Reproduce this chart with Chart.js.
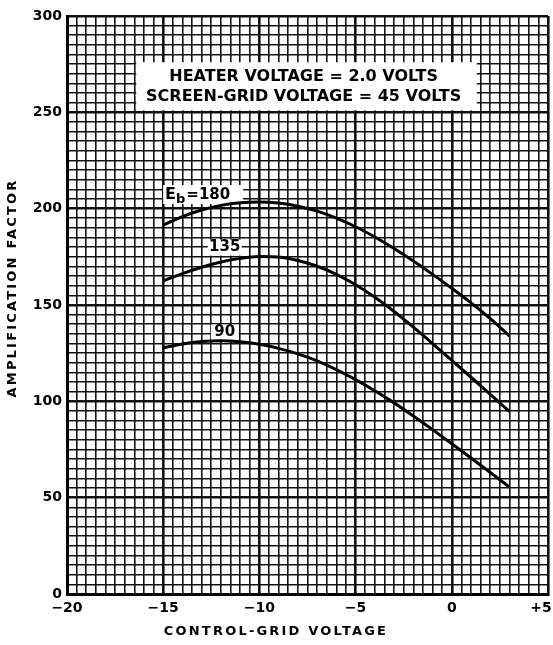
<!DOCTYPE html>
<html>
<head>
<meta charset="utf-8">
<script src="https://cdn.jsdelivr.net/npm/chart.js@4/dist/chart.umd.min.js"></script>
<style>
  html, body { margin: 0; padding: 0; background: #fff; }
  #wrap { width: 553px; height: 645px; }
</style>
</head>
<body>
<div id="wrap"><canvas id="ampChart"></canvas></div>
<script>
// control-grid voltage (x) and amplification factor for each plate voltage
var gridVoltage = [-15, -14, -13, -12, -11, -10, -9, -8, -7, -6, -5, -4, -3, -2, -1, 0, 1, 2, 3];
var amp180 = [191.5, 195.9, 199.3, 201.7, 203.1, 203.5, 202.9, 201.3, 198.7, 195.1, 190.6, 185.3, 179.3, 172.8, 165.9, 158.7, 151.1, 142.9, 133.9];
var amp135 = [162.5, 166.3, 169.6, 172.3, 174.2, 175.2, 174.9, 173.1, 170.1, 165.9, 160.5, 154.0, 146.6, 138.5, 130.0, 121.3, 112.5, 103.6, 94.6];
var amp90  = [127.8, 129.8, 131.0, 131.4, 130.9, 129.6, 127.5, 124.6, 121.0, 116.5, 111.3, 105.5, 99.2, 92.4, 85.3, 78.0, 70.6, 63.1, 55.5];

var xTickLabels = { "-20": "\u221220", "-15": "\u221215", "-10": "\u221210", "-5": "\u22125", "0": "0", "5": "+5" };
var yTickLabels = [0, 50, 100, 150, 200, 250, 300];

var noteLines = ["HEATER VOLTAGE = 2.0 VOLTS", "SCREEN-GRID VOLTAGE = 45 VOLTS"];
var xTitle = "CONTROL-GRID VOLTAGE";
var yTitle = "AMPLIFICATION FACTOR";

var FONT = "'DejaVu Sans', sans-serif";

function isMajor(v, step) {
    var r = v / step;
    return Math.abs(r - Math.round(r)) < 1e-6;
}

function toPoints(ys) {
    return gridVoltage.map(function(x, i) { return { x: x, y: ys[i] }; });
}

function curve(label, ys) {
    return {
        label: label,
        data: toPoints(ys),
        borderColor: "#000",
        borderWidth: 3,
        pointRadius: 0,
        fill: false,
        cubicInterpolationMode: "monotone",
        borderCapStyle: "butt"
    };
}

// white note box, curve labels and axis titles
var paperPlugin = {
    id: "paper",
    beforeDatasetsDraw: function(chart) {
        var ctx = chart.ctx, xs = chart.scales.x, ys = chart.scales.y;
        ctx.save();
        ctx.fillStyle = "#fff";
        // note box
        var bx1 = xs.getPixelForValue(-16.4), bx2 = xs.getPixelForValue(1.3);
        var by1 = ys.getPixelForValue(276), by2 = ys.getPixelForValue(251);
        ctx.fillRect(bx1, by1, bx2 - bx1, by2 - by1);
        // label backgrounds
        var lx = xs.getPixelForValue(-14.9), ly = ys.getPixelForValue(205);
        ctx.fillRect(lx - 2, ly - 14, 80, 19);
        var l135x = xs.getPixelForValue(-11.8), l135y = ys.getPixelForValue(179.8);
        ctx.fillRect(l135x - 17, l135y - 8, 34, 16);
        var l90x = xs.getPixelForValue(-11.8), l90y = ys.getPixelForValue(135.7);
        ctx.fillRect(l90x - 14, l90y - 8, 28, 16);
        ctx.restore();
    },
    afterDatasetsDraw: function(chart) {
        var ctx = chart.ctx, xs = chart.scales.x, ys = chart.scales.y;
        ctx.save();
        ctx.fillStyle = "#000";
        ctx.textBaseline = "middle";
        ctx.textAlign = "center";
        ctx.font = "bold 16px " + FONT;
        var cx = xs.getPixelForValue(-7.7);
        ctx.fillText(noteLines[0], cx, ys.getPixelForValue(268.3));
        ctx.fillText(noteLines[1], cx, ys.getPixelForValue(257.9));

        // E_b = 180
        ctx.textAlign = "left";
        ctx.textBaseline = "alphabetic";
        var lx = xs.getPixelForValue(-14.9), ly = ys.getPixelForValue(205);
        ctx.font = "bold 16px " + FONT;
        ctx.fillText("E", lx, ly);
        var w = ctx.measureText("E").width;
        ctx.font = "bold 13px " + FONT;
        ctx.fillText("b", lx + w, ly + 4);
        var w2 = ctx.measureText("b").width;
        ctx.font = "bold 15px " + FONT;
        ctx.fillText("=180", lx + w + w2 + 1, ly);

        ctx.textAlign = "center";
        ctx.textBaseline = "middle";
        ctx.fillText("135", xs.getPixelForValue(-11.8), ys.getPixelForValue(179.8));
        ctx.fillText("90", xs.getPixelForValue(-11.8), ys.getPixelForValue(135.7));

        // axis titles
        ctx.font = "bold 13px " + FONT;
        ctx.letterSpacing = "2.2px";
        ctx.fillText(xTitle, 276, 632);
        ctx.translate(13, 288);
        ctx.rotate(-Math.PI / 2);
        ctx.fillText(yTitle, 0, 0);
        ctx.restore();
    }
};

var ampChart = new Chart(document.getElementById("ampChart"), {
    type: "line",
    data: {
        datasets: [curve("Eb=180", amp180), curve("Eb=135", amp135), curve("Eb=90", amp90)]
    },
    options: {
        responsive: true,
        maintainAspectRatio: false,
        animation: false,
        layout: { padding: { top: 16, right: 5, left: 0, bottom: 0 } },
        plugins: { legend: { display: false }, tooltip: { enabled: false } },
        scales: {
            x: {
                type: "linear",
                min: -20,
                max: 5,
                afterFit: function(s) { s.height = 51; s.paddingLeft = 0; s.paddingRight = 0; },
                ticks: {
                    stepSize: 0.5,
                    autoSkip: false,
                    maxRotation: 0,
                    padding: 6,
                    color: "#000",
                    font: { family: FONT, size: 14, weight: "bold" },
                    callback: function(v) {
                        if (!isMajor(v, 5)) return "";
                        var t = xTickLabels[String(Math.round(v))];
                        return v === 5 ? t + "\u2002\u2002" : t;
                    }
                },
                grid: {
                    color: "#111",
                    drawTicks: false,
                    lineWidth: function(c) { return c.tick && isMajor(c.tick.value, 5) ? 2.6 : 1.6; }
                },
                border: { display: true, color: "#000", width: 3 }
            },
            y: {
                min: 0,
                max: 300,
                afterFit: function(s) { s.width = 67; s.paddingTop = 0; s.paddingBottom = 0; },
                ticks: {
                    stepSize: 5,
                    autoSkip: false,
                    padding: 5,
                    color: "#000",
                    font: { family: FONT, size: 14, weight: "bold" },
                    callback: function(v) { return yTickLabels.indexOf(v) >= 0 ? String(v) : ""; }
                },
                grid: {
                    color: "#111",
                    drawTicks: false,
                    lineWidth: function(c) { return c.tick && isMajor(c.tick.value, 50) ? 2.6 : 1.6; }
                },
                border: { display: true, color: "#000", width: 3 }
            }
        }
    },
    plugins: [paperPlugin]
});
</script>
</body>
</html>
